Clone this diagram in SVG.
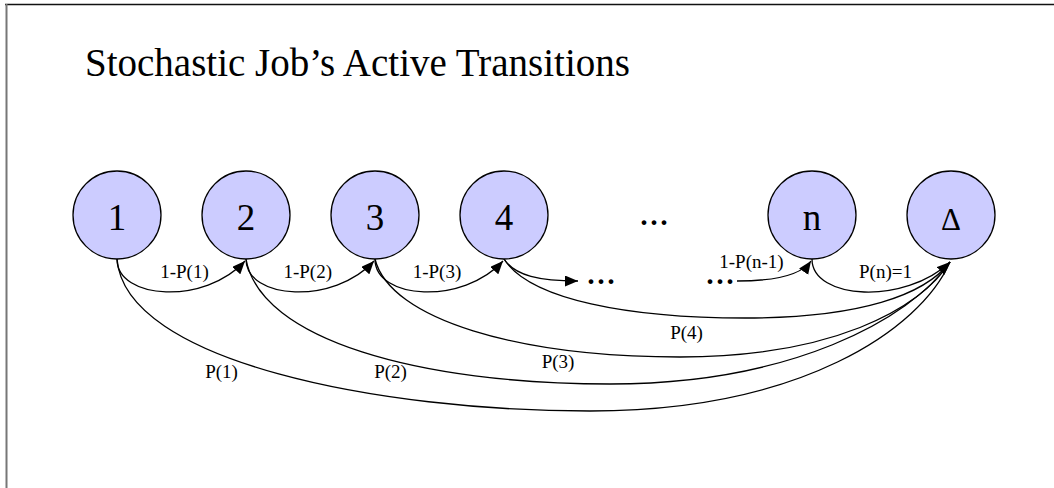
<svg xmlns="http://www.w3.org/2000/svg" width="1054" height="488" viewBox="0 0 1054 488">
<style>
.node circle { fill: #CCCCFF; stroke: #000; stroke-width: 1.3; }
.node text { font-family: "Liberation Serif", "Times New Roman", serif; font-size: 37px; text-anchor: middle; fill: #000; }
.lbl { font-family: "Liberation Serif", "Times New Roman", serif; font-size: 19px; text-anchor: middle; fill: #000; }
.dots { font-family: "Liberation Serif", "Times New Roman", serif; font-size: 40px; fill: #000; }
.edge { fill: none; stroke: #000; stroke-width: 1.3; }
.arr { marker-end: url(#ah); }
</style>
<defs>
<marker id="ah" markerUnits="userSpaceOnUse" markerWidth="14" markerHeight="12" refX="13" refY="5.5" orient="auto">
<path d="M0,0 L13,5.5 L0,11 z" fill="#000"/>
</marker>
</defs>
<rect width="1054" height="488" fill="#fff"/>
<line x1="5" y1="4.5" x2="1054" y2="4.5" stroke="#111" stroke-width="1.6"/>
<line x1="6.5" y1="4" x2="6.5" y2="488" stroke="#777" stroke-width="2"/>
<text x="85" y="76" font-family="Liberation Serif, Times New Roman, serif" font-size="39" fill="#000">Stochastic Job’s Active Transitions</text>

<g id="connectors">
<path class="edge arr" d="M117,259 C117,300 205,305 245,261"/>
<path class="edge arr" d="M246,259 C246,300 334,305 374,261"/>
<path class="edge arr" d="M375,259 C375,300 463,305 503,261"/>
<path class="edge arr" d="M504,259 C515,276 540,281 578,281"/>
<path class="edge arr" d="M737,281 C770,281 800,277 811,261"/>
<path class="edge arr" d="M812,259 C812,300 905,305 950,262"/>
<path class="edge" d="M504,259 C530,300 630,318 745,318 C860,318 925,295 950,262"/>
<path class="edge" d="M375,259 C390,320 520,357 680,357 C830,357 920,310 950,262"/>
<path class="edge" d="M246,259 C260,340 420,384 610,384 C790,384 910,320 950,262"/>
<path class="edge" d="M117,259 C125,362 380,411 590,411 C800,411 920,330 950,262"/>
</g>

<g id="edge-labels">
<text class="lbl" x="184.5" y="278">1-P(1)</text>
<text class="lbl" x="307.7" y="278">1-P(2)</text>
<text class="lbl" x="437" y="278">1-P(3)</text>
<text class="lbl" x="751.5" y="268">1-P(n-1)</text>
<text class="lbl" x="885.5" y="278">P(n)=1</text>
<text class="lbl" x="686.5" y="339">P(4)</text>
<text class="lbl" x="558" y="368">P(3)</text>
<text class="lbl" x="390.5" y="378">P(2)</text>
<text class="lbl" x="221.5" y="378">P(1)</text>
<text class="dots" x="639" y="225">...</text>
<text class="dots" x="586" y="284">...</text>
<text class="dots" x="705" y="284">...</text>
</g>

<g id="node-1" class="node"><circle cx="117" cy="215" r="44"/><text x="117" y="230">1</text></g>
<g id="node-2" class="node"><circle cx="246" cy="215" r="44"/><text x="246" y="230">2</text></g>
<g id="node-3" class="node"><circle cx="375" cy="215" r="44"/><text x="375" y="230">3</text></g>
<g id="node-4" class="node"><circle cx="504" cy="215" r="44"/><text x="504" y="230">4</text></g>
<g id="node-n" class="node"><circle cx="812" cy="215" r="44"/><text x="812" y="230">n</text></g>
<g id="node-delta" class="node"><circle cx="951" cy="215" r="44"/><text x="951" y="230" style="font-size:31px">Δ</text></g>
</svg>
